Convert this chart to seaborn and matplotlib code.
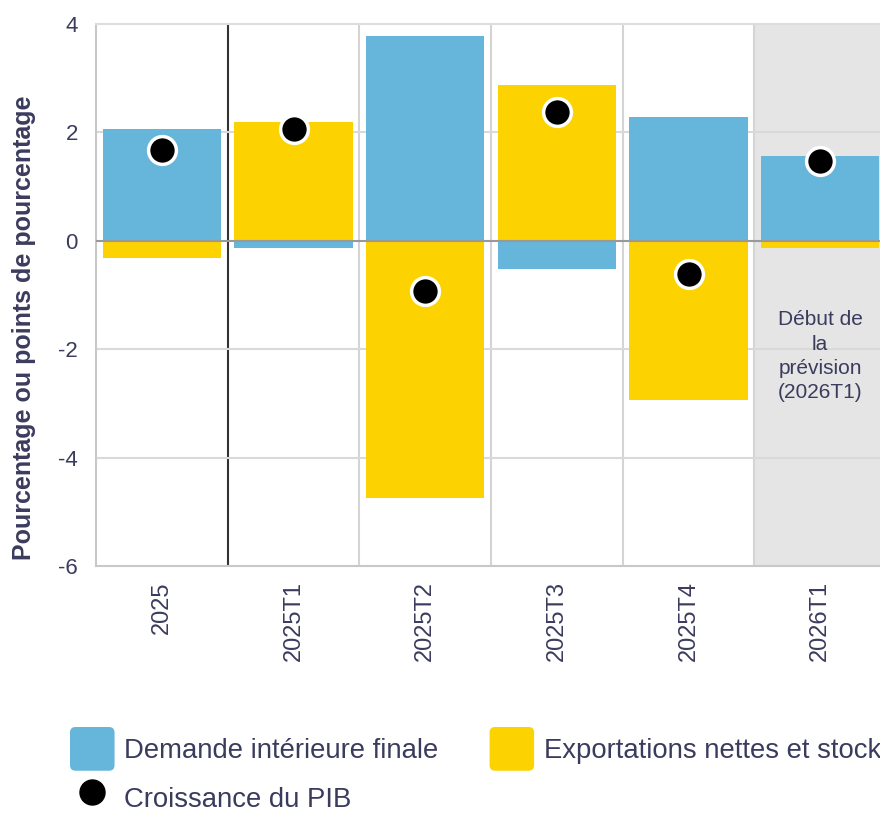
import matplotlib
matplotlib.use("Agg")
import matplotlib.pyplot as plt
import seaborn as sns
import pandas as pd
from matplotlib.patches import FancyBboxPatch
from matplotlib.lines import Line2D
from matplotlib.legend_handler import HandlerPatch

# ==========================================================
# Data
# ==========================================================

categories = ["2025", "2025T1", "2025T2", "2025T3", "2025T4", "2026T1"]
demande = [2.07, -0.13, 3.78, -0.52, 2.28, 1.57]
exportations = [-0.32, 2.19, -4.74, 2.87, -2.93, -0.13]
pib = [1.67, 2.07, -0.93, 2.37, -0.61, 1.48]

lab_dem = "Demande intérieure finale"
lab_exp = "Exportations nettes et stocks"
lab_pib = "Croissance du PIB"

blue = "#66b5db"
yellow = "#fcd200"
text_col = "#3b3b5e"

df = pd.DataFrame({
    "periode": categories * 2,
    "serie": [lab_dem] * len(categories) + [lab_exp] * len(categories),
    "valeur": demande + exportations,
})
df_pib = pd.DataFrame({"periode": categories, "valeur": pib})

sns.set_style("white")
plt.rcParams["font.family"] = ["Liberation Sans", "DejaVu Sans"]
plt.rcParams["axes.unicode_minus"] = False

fig = plt.figure(figsize=(8.8, 8.13), dpi=100)
ax = fig.add_axes([96 / 880, 1 - 566 / 813, 790 / 880, 542 / 813])

# forecast shading + separators
ax.axvspan(4.5, 5.5, color="#e5e5e5", zorder=0, lw=0)
for b in [1.5, 2.5, 3.5, 4.5]:
    ax.axvline(b, color="#d4d4d4", lw=1.5, zorder=0.5)
ax.axvline(0.5, color="#333333", lw=1.5, zorder=0.5)
for yv in [-4, -2, 2]:
    ax.axhline(yv, color="#d9d9d9", lw=1.5, zorder=0.5)

sns.barplot(
    data=df, x="periode", y="valeur", hue="serie",
    order=categories, hue_order=[lab_dem, lab_exp],
    palette=[blue, yellow], dodge=False, width=0.9,
    saturation=1, legend=False, ax=ax, zorder=2, linewidth=0,
)

ax.axhline(0, color="#999999", lw=1.5, zorder=3)

sns.stripplot(
    data=df_pib, x="periode", y="valeur", order=categories,
    jitter=False, size=20, color="black", edgecolor="white",
    linewidth=2.5, ax=ax, zorder=4,
)

ax.text(5.0, -2.13, "Début de\nla\nprévision\n(2026T1)", ha="center",
        va="center", fontsize=15, color=text_col, linespacing=1.35)

ax.set_xlim(-0.5, 5.5)
ax.set_ylim(-6, 4)
ax.set_yticks([-6, -4, -2, 0, 2, 4])
ax.set_xlabel("")
ax.set_ylabel("Pourcentage ou points de pourcentage", fontsize=18,
              fontweight="bold", color=text_col)
ax.yaxis.set_label_coords(-0.076, 0.44)
ax.tick_params(axis="both", length=0, pad=13, labelsize=16, colors=text_col)
ax.tick_params(axis="x", rotation=90, labelsize=17, pad=11)

for side in ["left", "bottom", "top"]:
    ax.spines[side].set_color("#c8c8c8")
    ax.spines[side].set_linewidth(1.5)
ax.spines["top"].set_color("#dddddd")
ax.spines["right"].set_visible(False)


# ==========================================================
# Legend
# ==========================================================

class RoundHandler(HandlerPatch):
    def create_artists(self, legend, orig_handle, xdescent, ydescent,
                       width, height, fontsize, trans):
        p = FancyBboxPatch((-xdescent + 2, -ydescent + 2), width - 4, height - 4,
                           boxstyle="round,pad=2,rounding_size=4",
                           facecolor=orig_handle.get_facecolor(), lw=0,
                           transform=trans)
        return [p]


h_dem = FancyBboxPatch((0, 0), 1, 1, facecolor=blue)
h_exp = FancyBboxPatch((0, 0), 1, 1, facecolor=yellow)
h_pib = Line2D([], [], marker="o", color="black", lw=0, markersize=18)

fig.legend(
    [h_dem, h_pib, h_exp], [lab_dem, lab_pib, lab_exp],
    handler_map={FancyBboxPatch: RoundHandler()},
    loc="upper left", bbox_to_anchor=(70 / 880, 1 - 727 / 813),
    ncol=2, frameon=False, fontsize=19.8, labelcolor=text_col,
    handlelength=1.62, handleheight=2.07, handletextpad=0.36,
    columnspacing=1.85, labelspacing=0.2, borderpad=0, borderaxespad=0,
)

plt.savefig("out.png", dpi=100)
plt.close()
